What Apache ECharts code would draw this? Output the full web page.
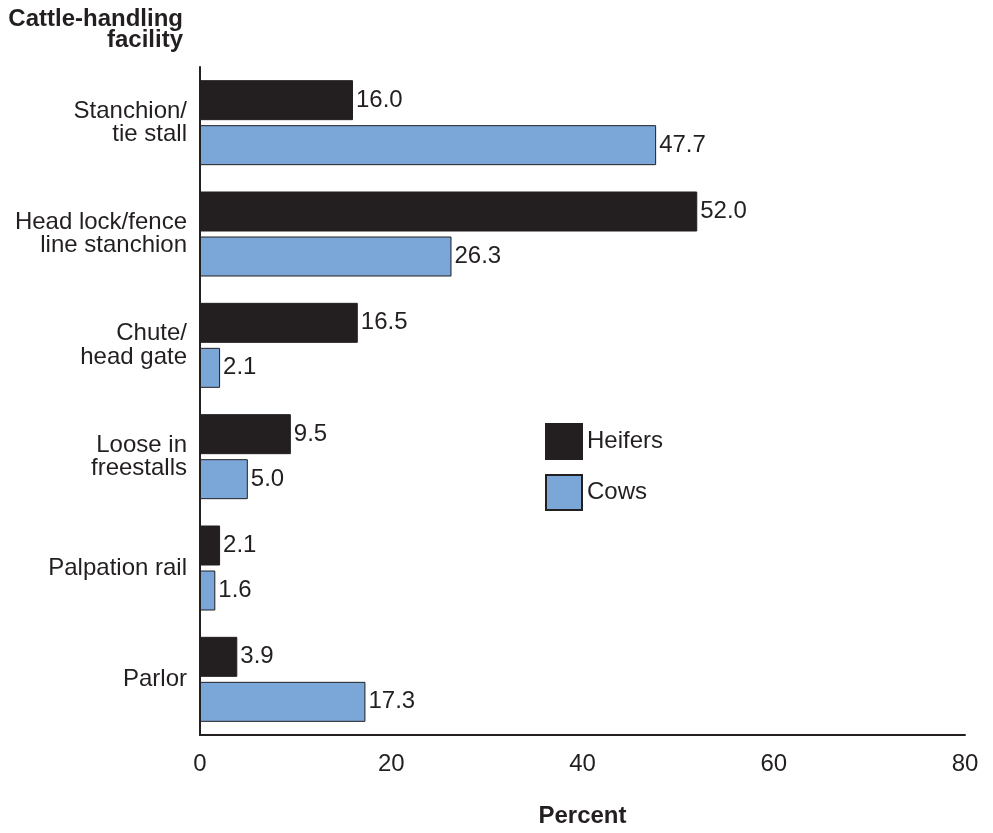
<!DOCTYPE html>
<html><head><meta charset="utf-8">
<script src="https://cdn.jsdelivr.net/npm/echarts@6/dist/echarts.min.js"></script>
<style>html,body{margin:0;padding:0;background:#fff}#c{width:993px;height:833px}</style>
</head><body><div id="c"></div>
<script>
const categories = ["Stanchion/\ntie stall","Head lock/fence\nline stanchion","Chute/\nhead gate","Loose in\nfreestalls","Palpation rail","Parlor"];
const heifers = [16.0, 52.0, 16.5, 9.5, 2.1, 3.9];
const cows = [47.7, 26.3, 2.1, 5.0, 1.6, 17.3];
const xTicks = [0, 20, 40, 60, 80];
const yTitle = "Cattle-handling\nfacility";
const xTitle = "Percent";

const font = 'Liberation Sans, Arial, Helvetica, sans-serif';
const dark = '#231f20';
const blue = '#7ba7d8';
const chart = echarts.init(document.getElementById('c'), null, {renderer:'canvas'});
const lbl = {show:true, position:'right', distance:3, color:dark, fontSize:24, fontFamily:font, formatter:p=>p.value.toFixed(1)};
chart.setOption({
  animation:false,
  textStyle:{fontFamily:font},
  grid:{left:200, right:28, top:67, bottom:97, containLabel:false},
  legend:{orient:'vertical', left:545, top:423, padding:0, itemWidth:36, itemHeight:35, itemGap:14, icon:'rect',
    textStyle:{fontSize:24, color:dark, fontFamily:font},
    data:['Heifers','Cows']},
  graphic:[{type:'text', right:993-183, top:7,
    style:{text:yTitle, font:'bold 24px ' + font, fill:dark, textAlign:'right', lineHeight:21}}],
  xAxis:{type:'value', min:xTicks[0], max:xTicks[xTicks.length-1], interval:xTicks[1]-xTicks[0],
    axisLine:{show:true, lineStyle:{color:dark, width:2}}, axisTick:{show:false},
    splitLine:{show:false},
    axisLabel:{fontSize:24, color:dark, margin:17, fontFamily:font},
    name:xTitle, nameLocation:'middle', nameGap:69,
    nameTextStyle:{fontSize:24, fontWeight:'bold', color:dark, fontFamily:font}},
  yAxis:{type:'category', data:categories, inverse:true,
    axisLine:{show:true, lineStyle:{color:dark, width:2}}, axisTick:{show:false},
    axisLabel:{fontSize:24, color:dark, margin:13, lineHeight:23.5, align:'right', fontFamily:font, padding:[0,0,8,0]}},
  series:[
    {name:'Heifers', type:'bar', data:heifers, barWidth:40, barGap:'12.5%',
     itemStyle:{color:dark, borderColor:dark, borderWidth:1}, label:lbl},
    {name:'Cows', type:'bar', data:cows, barWidth:40,
     itemStyle:{color:blue, borderColor:dark, borderWidth:1}, label:lbl}
  ]
});
</script></body></html>
